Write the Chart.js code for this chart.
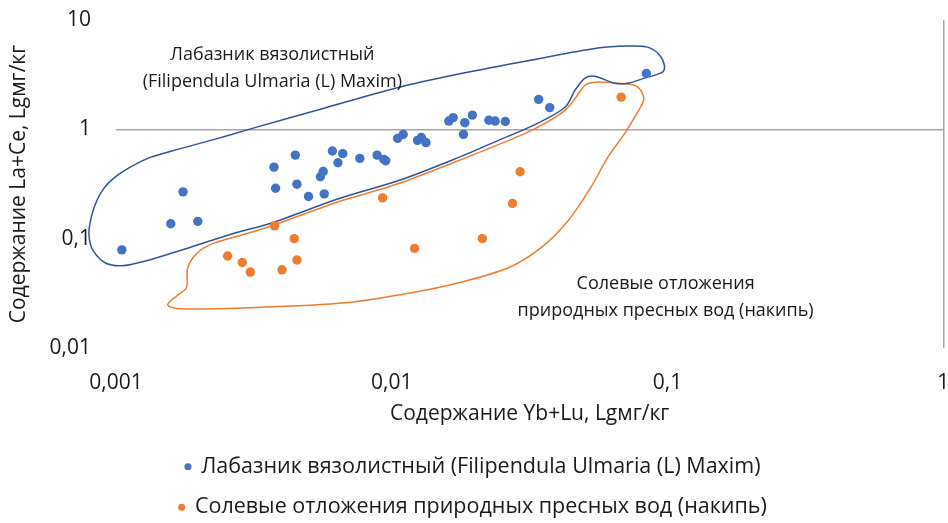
<!DOCTYPE html>
<html>
<head>
<meta charset="utf-8">
<script src="https://cdn.jsdelivr.net/npm/chart.js@4"></script>
<style>
  html, body { margin: 0; padding: 0; background: #fff; }
  #wrap { width: 948px; height: 523px; }
</style>
</head>
<body>
<div id="wrap"><canvas id="myChart"></canvas></div>
<script>
// названия серий
const seriesNames = [
  "Лабазник вязолистный (Filipendula Ulmaria (L) Maxim)",
  "Солевые отложения природных пресных вод (накипь)",
];

// Лабазник: Yb+Lu / La+Ce
const plantX = [0.00105, 0.00158, 0.00175, 0.00198, 0.00374, 0.00447, 0.00379, 0.00453, 0.00499, 0.00569,
  0.00551, 0.00564, 0.00609, 0.00664, 0.00638, 0.00766, 0.00885, 0.00936, 0.00951, 0.0105,
  0.011, 0.0124, 0.0128, 0.0133, 0.0161, 0.0167, 0.0184, 0.0196, 0.0182, 0.0225,
  0.0237, 0.0258, 0.0341, 0.0374, 0.0838];
const plantY = [0.079, 0.137, 0.268, 0.144, 0.451, 0.581, 0.289, 0.315, 0.243, 0.257,
  0.368, 0.412, 0.633, 0.599, 0.495, 0.542, 0.581, 0.531, 0.516, 0.827,
  0.896, 0.793, 0.841, 0.757, 1.19, 1.28, 1.15, 1.35, 0.9, 1.21,
  1.19, 1.18, 1.88, 1.58, 3.24];

// накипь
const scaleX = [0.00254, 0.00287, 0.00307, 0.00376, 0.004, 0.00443, 0.00453, 0.00926, 0.0121, 0.0213, 0.0274, 0.0292, 0.0679];
const scaleY = [0.0694, 0.0606, 0.0495, 0.131, 0.0519, 0.1, 0.0638, 0.236, 0.0815, 0.1, 0.21, 0.409, 1.97];

// контуры групп (в единицах осей), замкнутые
const plantAreaX = [0.00312, 0.00568, 0.0103, 0.0182, 0.032, 0.0559, 0.0717, 0.0847, 0.0936, 0.0975,
  0.0959, 0.0826, 0.0717, 0.0644, 0.0545, 0.0502, 0.0462, 0.0425, 0.0339, 0.0230,
  0.0175, 0.0106, 0.00644, 0.00369, 0.00265, 0.0017, 0.00129, 0.00105, 0.000913, 0.000826,
  0.0008, 0.0008, 0.000833, 0.000898, 0.001, 0.00114, 0.00133, 0.0017, 0.00224, 0.00312];
const plantAreaY = [1.02, 1.56, 2.38, 3.27, 4.3, 5.54, 5.78, 5.65, 4.77, 3.78,
  3.33, 2.94, 2.64, 2.64, 3.06, 2.94, 2.28, 1.59, 1.14, 0.744,
  0.554, 0.34, 0.233, 0.14, 0.111, 0.0776, 0.0628, 0.0565, 0.0602, 0.0776,
  0.1, 0.126, 0.193, 0.282, 0.371, 0.458, 0.554, 0.663, 0.801, 1.02];

const scaleAreaX = [0.00643, 0.0106, 0.0175, 0.023, 0.0305, 0.036, 0.0425, 0.0466, 0.0502, 0.0545,
  0.066, 0.076, 0.0799, 0.0819, 0.076, 0.07, 0.0607, 0.0527, 0.0436, 0.0348,
  0.0265, 0.0175, 0.0118, 0.00682, 0.00297, 0.0017, 0.00154, 0.00166, 0.0018, 0.00182,
  0.00196, 0.00224, 0.00297, 0.00369, 0.00643];
const scaleAreaY = [0.219, 0.32, 0.519, 0.684, 0.919, 1.14, 1.49, 1.97, 2.53, 2.7,
  2.64, 2.53, 2.28, 1.85, 1.29, 0.919, 0.554, 0.294, 0.146, 0.0827,
  0.0542, 0.0395, 0.032, 0.0259, 0.0233, 0.0228, 0.0248, 0.03, 0.0355, 0.0542,
  0.0729, 0.09, 0.111, 0.132, 0.219];

// подписи осей
const xTickVals = [0.001, 0.01, 0.1, 1];
const xTickText = ["0,001", "0,01", "0,1", "1"];
const yTickVals = [0.01, 0.1, 1, 10];
const yTickText = ["0,01", "0,1", "1", "10"];

// подписи групп внутри графика
const notes = [
  { x: 0.00369, y: 4.77, lines: ["Лабазник вязолистный", "(Filipendula Ulmaria (L) Maxim)"] },
  { x: 0.0984, y: 0.0387, lines: ["Солевые отложения", "природных пресных вод (накипь)"] },
];

const FONT = "'Open Sans', 'Noto Sans', sans-serif";
const TXT = "#1a1a1a";

function pairs(xs, ys) {
  return xs.map((x, i) => ({ x: x, y: ys[i] }));
}

const notesPlugin = {
  id: "notes",
  afterDatasetsDraw(chart) {
    const ctx = chart.ctx;
    const xs = chart.scales.x;
    const ys = chart.scales.y;
    ctx.save();
    ctx.fillStyle = TXT;
    ctx.textAlign = "center";
    ctx.textBaseline = "middle";
    ctx.font = "18px " + FONT;
    notes.forEach((n) => {
      const px = xs.getPixelForValue(n.x);
      const py = ys.getPixelForValue(n.y);
      n.lines.forEach((t, i) => ctx.fillText(t, px, py + i * 27));
    });
    ctx.restore();
  },
};

const ctxChart = document.getElementById("myChart").getContext("2d");
const chart = new Chart(ctxChart, {
  type: "scatter",
  data: {
    datasets: [
      {
        label: seriesNames[0],
        data: pairs(plantX, plantY),
        backgroundColor: "#4472C4",
        borderColor: "#4472C4",
        pointRadius: 4.7,
        pointBorderWidth: 0,
      },
      {
        label: seriesNames[1],
        data: pairs(scaleX, scaleY),
        backgroundColor: "#ED7D31",
        borderColor: "#ED7D31",
        pointRadius: 4.7,
        pointBorderWidth: 0,
      },
      {
        label: "area1",
        data: pairs(plantAreaX, plantAreaY),
        showLine: true,
        pointRadius: 0,
        borderColor: "#2F5597",
        borderWidth: 1.5,
        tension: 0.3,
        clip: false,
      },
      {
        label: "area2",
        data: pairs(scaleAreaX, scaleAreaY),
        showLine: true,
        pointRadius: 0,
        borderColor: "#ED7D31",
        borderWidth: 1.5,
        tension: 0.3,
        clip: false,
      },
    ],
  },
  options: {
    responsive: true,
    maintainAspectRatio: false,
    animation: false,
    elements: { line: { capBezierPoints: false } },
    layout: { padding: { top: 20, right: 2, left: 0, bottom: -5 } },
    plugins: {
      tooltip: { enabled: false },
      legend: {
        display: true,
        position: "bottom",
        labels: {
          filter: (item) => item.datasetIndex < 2,
          usePointStyle: true,
          boxWidth: 5,
          boxHeight: 5,
          padding: 19,
          color: TXT,
          font: { family: FONT, size: 21.5 },
        },
      },
    },
    scales: {
      x: {
        type: "logarithmic",
        min: 0.001,
        max: 1,
        afterBuildTicks: (s) => { s.ticks = xTickVals.map((v) => ({ value: v })); },
        afterFit: (s) => { s.height = 89; s.paddingLeft = 0; s.paddingRight = 0; },
        ticks: {
          padding: 22,
          color: TXT,
          maxRotation: 0,
          font: { family: FONT, size: 21 },
          callback: (v, i) => xTickText[i],
        },
        grid: {
          drawTicks: false,
          lineWidth: 1.5,
          color: (c) => (c.tick && c.tick.value === 1 ? "#A6A6A6" : "rgba(0,0,0,0)"),
        },
        border: { display: false },
        title: {
          display: true,
          text: "Содержание Yb+Lu, Lgмг/кг",
          color: TXT,
          font: { family: FONT, size: 21 },
          padding: { top: 0, bottom: 10 },
        },
      },
      y: {
        type: "logarithmic",
        min: 0.01,
        max: 10,
        afterBuildTicks: (s) => { s.ticks = yTickVals.map((v) => ({ value: v })); },
        afterFit: (s) => { s.width = 116; s.paddingTop = 0; s.paddingBottom = 0; },
        ticks: {
          padding: 25,
          color: TXT,
          font: { family: FONT, size: 21 },
          callback: (v, i) => yTickText[i],
        },
        grid: {
          drawTicks: false,
          lineWidth: 1.5,
          color: (c) => (c.tick && c.tick.value === 1 ? "#A6A6A6" : "rgba(0,0,0,0)"),
        },
        border: { display: false },
        title: {
          display: true,
          text: "Содержание La+Ce, Lgмг/кг",
          color: TXT,
          font: { family: FONT, size: 21 },
          padding: { top: 6, bottom: 0 },
        },
      },
    },
  },
  plugins: [notesPlugin],
});
</script>
</body>
</html>
